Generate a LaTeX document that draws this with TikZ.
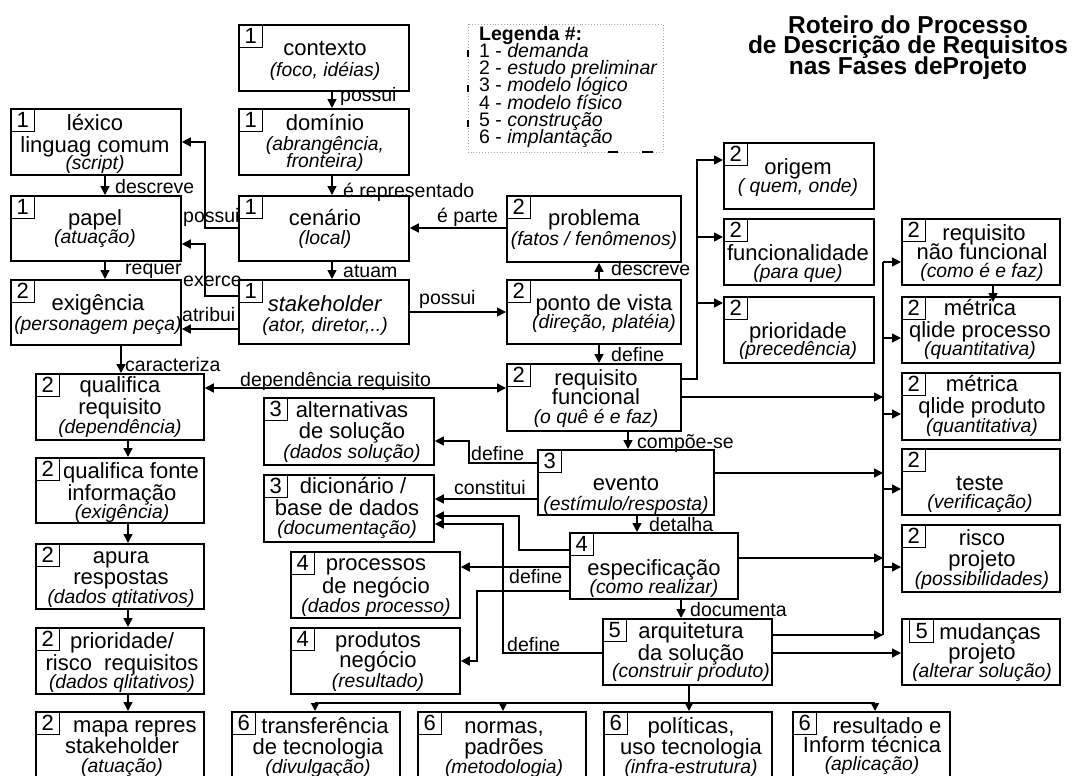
\documentclass[tikz,border=0pt]{standalone}
\usepackage{fontspec}
\setmainfont{Liberation Sans}
\usetikzlibrary{arrows.meta}
\newcommand\subt[1]{{\fontsize{19.3}{21}\selectfont\itshape #1}}
\newcommand\tightlines{\lineskiplimit=-100pt\relax}
% name, x1, y1, x2, y2, number, text x, first baseline, text
\newcommand\mybox[9]{%
  \node[boxst, minimum width={(#4)-(#2)}, minimum height={(#5)-(#3)}, anchor=north west] (#1) at (#2,-#3) {};
  \node[numst, anchor=north west] (#1-n) at (#1.north west) {#6};
  \node[txtst, anchor=north] (#1-t) at (#7,{18-#8}) {\rule{0pt}{18pt}#9};
}
\begin{document}
\begin{tikzpicture}[x=1pt,y=1pt,
  boxst/.style={draw, line width=1.8pt, inner sep=0pt},
  numst/.style={draw, line width=1.3pt, inner sep=0pt, minimum width=24pt, minimum height=23pt, font=\fontsize{22}{22}\selectfont},
  txtst/.style={align=center, inner sep=0pt, font=\fontsize{22}{21}\selectfont\tightlines},
  lbl/.style={anchor=base west, inner sep=0pt, font=\fontsize{19.5}{20}\selectfont},
  wire/.style={line width=1.5pt},
  arr/.style={wire, -{Triangle[length=9pt,width=9pt]}},
  sarr/.style={wire, -{Triangle[length=8pt,width=8pt]}},
  darr/.style={wire, {Triangle[length=9pt,width=9pt]}-{Triangle[length=9pt,width=9pt]}}
]
\useasboundingbox (0,0) rectangle (1079,-776);

% title
\node[anchor=north, align=center, inner sep=0pt, font=\fontsize{24.5}{20.5}\selectfont\bfseries\tightlines] (title) at (908,{20-33})
  {\rule{0pt}{20pt}Roteiro do Processo\\de Descrição de Requisitos\\nas Fases deProjeto};

% legend
\draw[gray!70, dotted, line width=0.9pt] (468,-24) rectangle (663,-152);
\node[anchor=north west, align=left, inner sep=0pt, font=\fontsize{19.5}{17.2}\selectfont\tightlines] (leg) at (479,{18-40})
  {\rule{0pt}{18pt}\textbf{Legenda \#:}\\1 - \textit{demanda}\\2 - \textit{estudo preliminar}\\3 - \textit{modelo lógico}\\4 - \textit{modelo físico}\\5 - \textit{construção}\\6 - \textit{implantação}};
\draw[line width=2pt] (468,-50) -- (468,-57) (468,-85) -- (468,-92) (468,-120) -- (468,-127)
  (608,-152) -- (618,-152) (642,-152) -- (653,-152);

% boxes
\mybox{ctx}{238}{24}{408}{90}{1}{325}{55}{contexto\\\subt{(foco, idéias)}}
\mybox{dom}{238}{108}{408}{174}{1}{325}{130}{domínio\\[-1pt]\subt{(abrangência,}\\[-4pt]\subt{fronteira)}}
\mybox{lex}{10}{108}{180}{174}{1}{95}{130}{léxico\\[1pt]linguag comum\\[-4pt]\subt{(script)}}
\mybox{pap}{10}{195}{180}{260}{1}{95}{225}{papel\\[-3pt]\subt{(atuação)}}
\mybox{cen}{238}{195}{408}{260}{1}{325}{225}{cenário\\[-2pt]\subt{(local)}}
\mybox{prob}{506}{195}{680}{261}{2}{594}{225}{problema\\[-1pt]\subt{(fatos / fenômenos)}}
\mybox{stk}{238}{279}{408}{343}{1}{325}{311}{\textit{stakeholder}\\[-1pt]\subt{(ator, diretor,..)}}
\mybox{exi}{10}{279}{180}{344}{2}{98}{310}{exigência\\[-1pt]\subt{(personagem peça)}}
\mybox{pv}{506}{279}{680}{343}{2}{604}{310}{ponto de vista\\[-3pt]\subt{(direção, platéia)}}
\mybox{rf}{506}{363}{680}{430}{2}{596}{385}{requisito\\[-2pt]funcional\\[-2pt]\subt{(o quê é e faz)}}
\mybox{ori}{723}{142}{873}{208}{2}{798}{174}{origem\\[-3pt]\subt{( quem, onde)}}
\mybox{fun}{723}{218}{873}{284}{2}{798}{260}{funcionalidade\\[-3pt]\subt{(para que)}}
\mybox{pri}{723}{296}{873}{362}{2}{798}{338}{prioridade\\[-4pt]\subt{(precedência)}}
\mybox{rnf}{901}{218}{1059}{284}{2}{982}{240}{\hspace*{4pt}requisito\\[-2pt]não funcional\\[-3pt]\subt{(como é e faz)}}
\mybox{mpr}{901}{296}{1059}{362}{2}{980}{315}{métrica\\[1pt]qlide processo\\[-3pt]\subt{(quantitativa)}}
\mybox{mpd}{901}{372}{1059}{439}{2}{982}{391}{métrica\\[1pt]qlide produto\\[-2pt]\subt{(quantitativa)}}
\mybox{tst}{901}{448}{1059}{514}{2}{980}{490}{teste\\[-3pt]\subt{(verificação)}}
\mybox{rsk}{901}{524}{1059}{591}{2}{982}{545}{risco\\projeto\\[-2pt]\subt{(possibilidades)}}
\node[boxst, minimum width=158pt, minimum height=66pt, anchor=north west] (mud) at (901,-618) {};
\node[numst, anchor=north west] (mud-n) at (909,-619) {5};
\node[txtst, anchor=north] (mud-t) at (982,{18-639}) {\rule{0pt}{18pt}\hspace*{16pt}mudanças\\[-1pt]projeto\\[-3pt]\subt{(alterar solução)}};
\mybox{qr}{35}{373}{203}{439}{2}{120}{392}{qualifica\\[1pt]requisito\\[-2pt]\subt{(dependência)}}
\mybox{qf}{35}{457}{203}{522}{2}{122}{478}{\hspace*{18pt}qualifica fonte\\[1pt]informação\\[-3pt]\subt{(exigência)}}
\mybox{ap}{35}{543}{203}{608}{2}{121}{563}{apura\\respostas\\[-2pt]\subt{(dados qtitativos)}}
\mybox{prr}{35}{627}{203}{693}{2}{122}{648}{prioridade/\\[1pt]risco\ \ requisitos\\[-3pt]\subt{(dados qlitativos)}}
\mybox{map}{35}{711}{203}{779}{2}{122}{732}{\hspace*{26pt}mapa repres\\stakeholder\\[-2pt]\subt{(atuação)}}
\mybox{alt}{263}{397}{433}{464}{3}{352}{417}{alternativas\\de solução\\[-1pt]\subt{(dados solução)}}
\mybox{dic}{263}{474}{433}{541}{3}{347}{493}{\hspace*{12pt}dicionário /\\[1pt]base de dados\\[-2pt]\subt{(documentação)}}
\mybox{evt}{537}{449}{713}{514}{3}{626}{490}{evento\\[-1pt]\subt{(estímulo/resposta)}}
\mybox{esp}{569}{532}{737}{598}{4}{654}{575}{especificação\\[-3pt]\subt{(como realizar)}}
\mybox{arq}{602}{618}{771}{684}{5}{691}{638}{arquitetura\\[1pt]da solução\\[-4pt]\subt{(construir produto)}}
\mybox{pn}{290}{551}{459}{617}{4}{376}{570}{processos\\[2pt]de negócio\\[-2pt]\subt{(dados processo)}}
\mybox{prd}{290}{627}{459}{693}{4}{378}{647}{produtos\\[-1pt]negócio\\[-1pt]\subt{(resultado)}}
\mybox{trf}{231}{711}{399}{779}{6}{318}{733}{\hspace*{14pt}transferência\\de tecnologia\\[-2pt]\subt{(divulgação)}}
\mybox{nor}{417}{711}{585}{779}{6}{504}{733}{normas,\\padrões\\[-2pt]\subt{(metodologia)}}
\mybox{pol}{603}{711}{771}{779}{6}{691}{733}{políticas,\\uso tecnologia\\[-2pt]\subt{(infra-estrutura)}}
\mybox{res}{792}{711}{949}{779}{6}{872}{733}{\hspace*{30pt}resultado e\\[-2pt]Inform técnica\\[-3pt]\subt{(aplicação)}}

% connectors, upper left
\draw[arr] (ctx.south -| 332,0) -- (dom.north -| 332,0);
\draw[arr] (dom.south -| 332,0) -- (cen.north -| 332,0);
\draw[arr] (cen.south -| 332,0) -- (stk.north -| 332,0);
\draw[arr] (cen.west |- 0,-228) -- (205,-228) -- (205,-142) -- (lex.east |- 0,-142);
\draw[arr] (lex.south -| 105,0) -- (pap.north -| 105,0);
\draw[arr] (stk.west |- 0,-296) -- (205,-296) -- (205,-244) -- (pap.east |- 0,-244);
\draw[arr] (pap.south -| 105,0) -- (exi.north -| 105,0);
\draw[arr] (stk.west |- 0,-329) -- (exi.east |- 0,-329);
\draw[arr] (prob.west |- 0,-228) -- (cen.east |- 0,-228);
\draw[arr] (stk.east |- 0,-312) -- (pv.west |- 0,-312);
\draw[arr] (pv.north -| 599,0) -- (prob.south -| 599,0);
\draw[arr] (pv.south -| 599,0) -- (rf.north -| 599,0);
\draw[darr] (qr.east |- 0,-388) -- (rf.west |- 0,-388);
\draw[arr] (exi.south -| 121,0) -- (qr.north -| 121,0);
\draw[arr] (qr.south -| 128,0) -- (qf.north -| 128,0);
\draw[arr] (qf.south -| 128,0) -- (ap.north -| 128,0);
\draw[arr] (ap.south -| 128,0) -- (prr.north -| 128,0);
\draw[arr] (prr.south -| 128,0) -- (map.north -| 128,0);

% requisito funcional fan-out
\draw[arr] (rf.east |- 0,-379) -- (697,-379) -- (697,-160) -- (ori.west |- 0,-160);
\draw[arr] (697,-237) -- (fun.west |- 0,-237);
\draw[arr] (697,-303) -- (pri.west |- 0,-303);

% right bus
\draw[wire] (883,-262) -- (883,-635);
\draw[arr] (883,-262) -- (rnf.west |- 0,-262);
\draw[arr] (883,-338) -- (mpr.west |- 0,-338);
\draw[arr] (883,-414) -- (mpd.west |- 0,-414);
\draw[arr] (883,-489) -- (tst.west |- 0,-489);
\draw[arr] (883,-567) -- (rsk.west |- 0,-567);
\draw[arr] (rf.east |- 0,-397) -- (883,-397);
\draw[arr] (evt.east |- 0,-473) -- (883,-473);
\draw[arr] (esp.east |- 0,-558) -- (883,-558);
\draw[arr] (arq.east |- 0,-635) -- (883,-635);
\draw[arr] (rnf.south -| 993,0) -- (993,-302);
\draw[arr] (arq.east |- 0,-653) -- (mud.west |- 0,-653);

% middle chain
\draw[arr] (rf.south -| 628,0) -- (evt.north -| 628,0);
\draw[arr] (evt.west |- 0,-463) -- (469,-463) -- (469,-441) -- (alt.east |- 0,-441);
\draw[arr] (evt.west |- 0,-499) -- (dic.east |- 0,-499);
\draw[arr] (evt.south -| 637,0) -- (esp.north -| 637,0);
\draw[arr] (esp.west |- 0,-550) -- (519,-550) -- (519,-516) -- (dic.east |- 0,-516);
\draw[arr] (arq.west |- 0,-653) -- (503,-653) -- (503,-524) -- (dic.east |- 0,-524);
\draw[arr] (esp.west |- 0,-567) -- (pn.east |- 0,-567);
\draw[arr] (esp.west |- 0,-591) -- (477,-591) -- (477,-661) -- (prd.east |- 0,-661);
\draw[arr] (esp.south -| 681,0) -- (arq.north -| 681,0);

% bottom distribution
\draw[arr] (arq.south -| 689,0) -- (pol.north -| 689,0);
\draw[wire] (315,-703) -- (875,-703);
\draw[sarr] (315,-703) -- (trf.north -| 315,0);
\draw[sarr] (503,-703) -- (nor.north -| 503,0);
\draw[sarr] (875,-703) -- (res.north -| 875,0);

% labels
\node[lbl] (l1) at (340,-102) {possui};
\node[lbl] (l2) at (343,-197) {é representado};
\node[lbl] (l3) at (183,-222) {possui};
\node[lbl] (l4) at (115,-193) {descreve};
\node[lbl] (l5) at (125,-274) {requer};
\node[lbl] (l6) at (183,-286) {exerce};
\node[lbl] (l7) at (182,-321) {atribui};
\node[lbl] (l8) at (343,-277) {atuam};
\node[lbl] (l9) at (437,-222) {é parte};
\node[lbl] (l10) at (419,-304) {possui};
\node[lbl] (l11) at (611,-275) {descreve};
\node[lbl] (l12) at (611,-361) {define};
\node[lbl] (l13) at (240,-386) {dependência requisito};
\node[lbl] (l14) at (125,-371) {caracteriza};
\node[lbl] (l15) at (637,-448) {compõe-se};
\node[lbl] (l16) at (471,-460) {define};
\node[lbl] (l17) at (454,-494) {constitui};
\node[lbl] (l18) at (649,-531) {detalha};
\node[lbl] (l19) at (509,-583) {define};
\node[lbl] (l20) at (507,-651) {define};
\node[lbl] (l21) at (690,-616) {documenta};
\end{tikzpicture}
\end{document}
